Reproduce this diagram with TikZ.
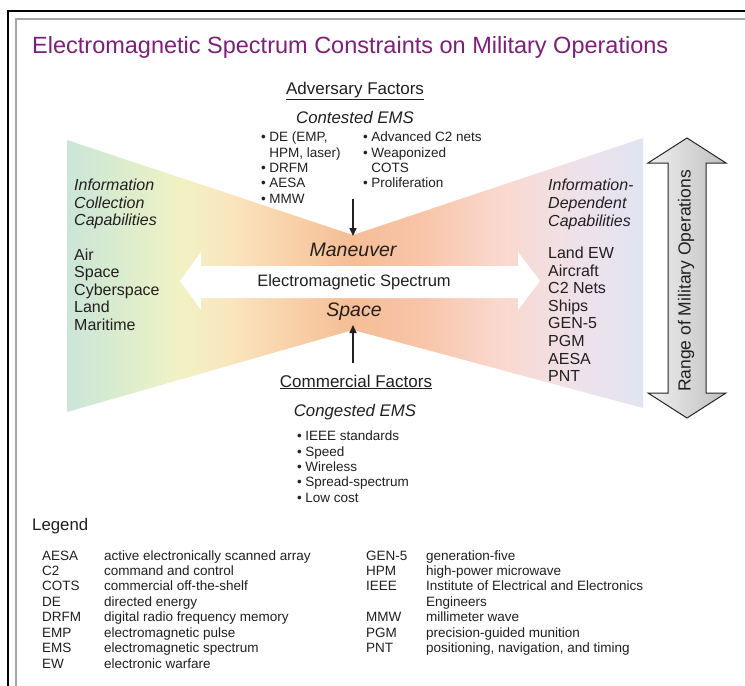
\documentclass[tikz,border=0pt]{standalone}
\usepackage{fontspec}
\setmainfont{Liberation Sans}
\usepackage{tikz}
\usetikzlibrary{arrows.meta}

\definecolor{titlepurple}{RGB}{125,32,122}
\definecolor{inkgray}{RGB}{35,31,32}
\definecolor{emsgreen}{RGB}{203,229,216}
\definecolor{emslime}{RGB}{218,236,206}
\definecolor{emsyellow}{RGB}{241,242,196}
\definecolor{emspeach}{RGB}{250,229,190}
\definecolor{emsapricot}{RGB}{248,206,166}
\definecolor{emsorange}{RGB}{245,190,150}
\definecolor{emssalmon}{RGB}{248,196,168}
\definecolor{emspink}{RGB}{250,216,206}
\definecolor{emslilac}{RGB}{238,226,235}
\definecolor{emsblue}{RGB}{225,228,242}

\pgfdeclarehorizontalshading{emsband}{100bp}{color(0bp)=(emsgreen); color(25bp)=(emsgreen);
  color(29.6bp)=(emslime); color(34.8bp)=(emsyellow); color(39.1bp)=(emspeach);
  color(45.2bp)=(emsapricot); color(49.6bp)=(emsorange); color(55.6bp)=(emssalmon);
  color(62.6bp)=(emspink); color(69.5bp)=(emslilac); color(75bp)=(emsblue); color(100bp)=(emsblue)}

\begin{document}
\begin{tikzpicture}[x=1pt,y=-1pt,
    every node/.style={inner sep=0pt, text=inkgray},
    headtext/.style={font=\fontsize{17}{19}\selectfont},
    subtext/.style={font=\fontsize{16.8}{19}\selectfont\itshape},
    spacetext/.style={font=\fontsize{19.5}{22}\selectfont\itshape},
    sidetext/.style={anchor=north west, align=left, font=\fontsize{16}{17.6}\selectfont},
    bullettext/.style={anchor=north west, font=\fontsize{13.5}{15.3}\selectfont},
    legendtext/.style={anchor=north west, font=\fontsize{13.5}{15.45}\selectfont},
    factorarrow/.style={-{Triangle[length=8pt,width=7pt]}, line width=1.6pt, draw=inkgray}]
    \useasboundingbox (0,0) rectangle (745,686);
    \fill[white] (0,0) rectangle (745,686);
    \draw[line width=1.6pt, black] (8,686) -- (8,11) -- (745,11);
    \draw[line width=1.6pt, gray!70] (16,686) -- (16,19) -- (745,19);

    \node[anchor=west, text=titlepurple, font=\fontsize{23.5}{26}\selectfont] (title) at (32,47)
        {Electromagnetic Spectrum Constraints on Military Operations};

    \shade[shading=emsband] (67,140) -- (353,235) -- (643,138) -- (643,408) -- (353,330) -- (67,412) -- cycle;
    \fill[white] (180,281) -- (201,252) -- (201,266) -- (518,266) -- (518,252) -- (540,281)
        -- (518,310) -- (518,298) -- (201,298) -- (201,310) -- cycle;
    \shade[left color=gray!12, right color=gray!50, draw=black!85, line width=1pt]
        (687,138) -- (726,163) -- (706,163) -- (706,393) -- (726,393) -- (687,418)
        -- (648,393) -- (668,393) -- (668,163) -- (648,163) -- cycle;

    \node[headtext] (advhead) at (355,91) {\underline{Adversary Factors}};
    \node[subtext] (advsub) at (355,117) {Contested EMS};
    \node[bullettext] (advleft) at (261,131) {\begin{tabular}{@{}l@{\hspace{3.5pt}}l@{}}
        \textbullet & DE (EMP,\\ & HPM, laser)\\ \textbullet & DRFM\\ \textbullet & AESA\\ \textbullet & MMW\end{tabular}};
    \node[bullettext] (advright) at (363,131) {\begin{tabular}{@{}l@{\hspace{3.5pt}}l@{}}
        \textbullet & Advanced C2 nets\\ \textbullet & Weaponized\\ & COTS\\ \textbullet & Proliferation\end{tabular}};

    \node[spacetext] (maneuver) at (353,250) {Maneuver};
    \node[font=\fontsize{16.5}{19}\selectfont] (emslabel) at (354,282) {Electromagnetic Spectrum};
    \node[spacetext] (space) at (354,312) {Space};

    \coordinate (advtail) at (353,199);
    \coordinate (topapex) at (353,236);
    \coordinate (comtail) at (353,363);
    \coordinate (botapex) at (353,325);
    \draw[factorarrow] (advtail) -- (topapex);
    \draw[factorarrow] (comtail) -- (botapex);

    \node[headtext] (comhead) at (356,382) {\underline{Commercial Factors}};
    \node[subtext] (comsub) at (355,412) {Congested EMS};
    \node[bullettext] (comlist) at (297,430) {\begin{tabular}{@{}l@{\hspace{3.5pt}}l@{}}
        \textbullet & IEEE standards\\ \textbullet & Speed\\ \textbullet & Wireless\\
        \textbullet & Spread-spectrum\\ \textbullet & Low cost\end{tabular}};

    \node[sidetext] (collect) at (74,179) {\textit{Information}\\ \textit{Collection}\\ \textit{Capabilities}\\[16.5pt]
        Air\\ Space\\ Cyberspace\\ Land\\ Maritime};
    \node[sidetext] (dependent) at (548,179) {\textit{Information-}\\ \textit{Dependent}\\ \textit{Capabilities}\\[15pt]
        Land EW\\ Aircraft\\ C2 Nets\\ Ships\\ GEN-5\\ PGM\\ AESA\\ PNT};

    \node[rotate=90, font=\fontsize{17.5}{20}\selectfont] (rangelabel) at (686,281) {Range of Military Operations};

    \node[anchor=west, font=\fontsize{16.8}{19}\selectfont] (legend) at (32,526) {Legend};
    \node[legendtext] (legleft) at (42,549) {\begin{tabular}{@{}p{62pt}@{}l@{}}
        AESA & active electronically scanned array\\ C2 & command and control\\
        COTS & commercial off-the-shelf\\ DE & directed energy\\
        DRFM & digital radio frequency memory\\ EMP & electromagnetic pulse\\
        EMS & electromagnetic spectrum\\ EW & electronic warfare\end{tabular}};
    \node[legendtext] (legright) at (366,549) {\begin{tabular}{@{}p{60pt}@{}l@{}}
        GEN-5 & generation-five\\ HPM & high-power microwave\\
        IEEE & Institute of Electrical and Electronics\\ & Engineers\\
        MMW & millimeter wave\\ PGM & precision-guided munition\\
        PNT & positioning, navigation, and timing\end{tabular}};
\end{tikzpicture}
\end{document}
